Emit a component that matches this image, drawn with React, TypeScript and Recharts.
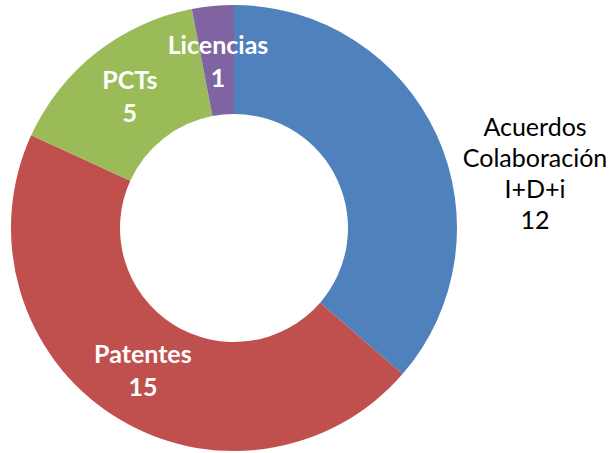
import { PieChart, Pie, Cell } from 'recharts';

const categories = ['Acuerdos\nColaboración\nI+D+i', 'Patentes', 'PCTs', 'Licencias'];
const values = [12, 15, 5, 1];
const colors = ['#4F81BD', '#C0504D', '#9BBB59', '#8064A2'];

const data = categories.map((name, i) => ({ name, value: values[i] }));

const RADIAN = Math.PI / 180;
const FONT = 'Lato, "Open Sans", sans-serif';

const renderLabel = (props: any) => {
  const { cx, cy, midAngle, innerRadius, outerRadius, index, name, value } = props;
  const lines = [...String(name).split('\n'), String(value)];
  const outside = index === 0;
  const lineH = outside ? 31 : 33;
  let x: number;
  let y: number;
  if (outside) {
    // the big slice has its label set off to the right of the ring
    x = cx + outerRadius * 1.35;
    y = cy - outerRadius * 0.25;
  } else {
    const r = (innerRadius + outerRadius) / 2;
    x = cx + r * Math.cos(-midAngle * RADIAN);
    y = cy + r * Math.sin(-midAngle * RADIAN);
  }
  const top = y - ((lines.length - 1) * lineH) / 2;
  return (
    <text
      x={x}
      y={top}
      textAnchor="middle"
      dominantBaseline="central"
      fill={outside ? '#000' : '#fff'}
      fontFamily={FONT}
      fontSize={outside ? 25 : 25}
      fontWeight={outside ? 400 : 700}
    >
      {lines.map((l, i) => (
        <tspan key={i} x={x} y={top + i * lineH}>
          {l}
        </tspan>
      ))}
    </text>
  );
};

export default function App() {
  return (
    <div style={{ position: 'absolute', left: 0, top: 0, width: 611, height: 453, background: '#fff' }}>
      <PieChart width={611} height={453} margin={{ top: 0, right: 0, bottom: 0, left: 0 }}>
        <Pie
          data={data}
          dataKey="value"
          cx={234}
          cy={228}
          innerRadius={114}
          outerRadius={223}
          startAngle={90}
          endAngle={-270}
          stroke="none"
          label={renderLabel}
          labelLine={false}
          isAnimationActive={false}
        >
          {data.map((entry, index) => (
            <Cell key={`cell-${index}`} fill={colors[index]} />
          ))}
        </Pie>
      </PieChart>
    </div>
  );
}
